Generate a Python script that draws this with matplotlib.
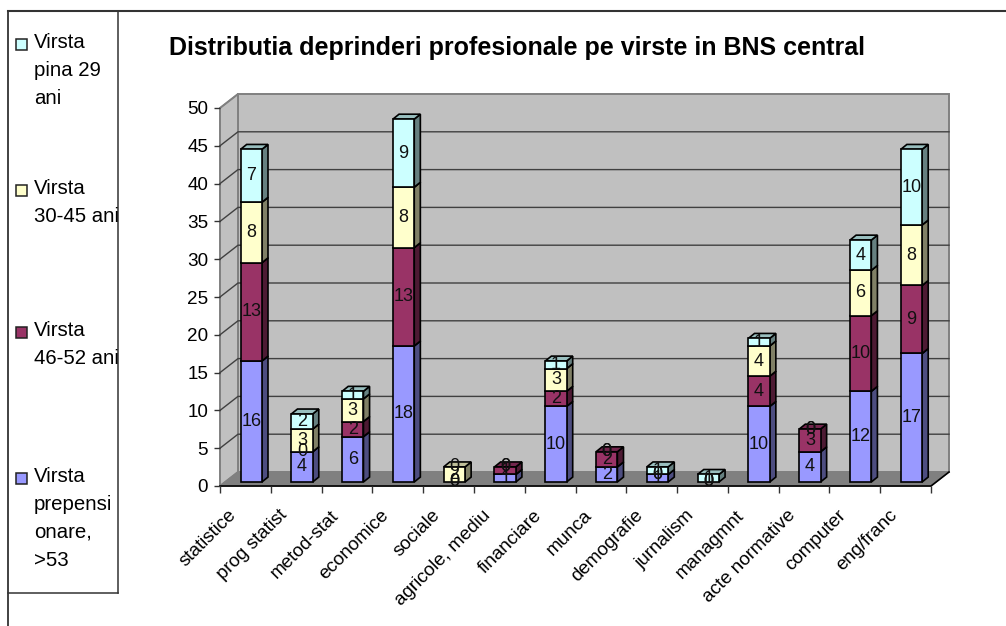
import matplotlib.pyplot as plt
from matplotlib.lines import Line2D
from matplotlib.patches import Polygon, Rectangle

categories = [
    "statistice", "prog statist", "metod-stat", "economice", "sociale",
    "agricole, mediu", "financiare", "munca", "demografie", "jurnalism",
    "managmnt", "acte normative", "computer", "eng/franc",
]
virsta_53 = [16, 4, 6, 18, 0, 1, 10, 2, 1, 0, 10, 4, 12, 17]
virsta_46 = [13, 0, 2, 13, 0, 1, 2, 2, 0, 0, 4, 3, 10, 9]
virsta_30 = [8, 3, 3, 8, 2, 0, 3, 0, 0, 0, 4, 0, 6, 8]
virsta_29 = [7, 2, 1, 9, 0, 0, 1, 0, 1, 1, 1, 0, 4, 10]
yticks = list(range(0, 55, 5))

series = [virsta_53, virsta_46, virsta_30, virsta_29]
front_colors = ["#9999FF", "#993366", "#FFFFCC", "#CCFFFF"]
side_colors = ["#4D4D80", "#4D1A33", "#808066", "#668080"]
top_colors = ["#7373BF", "#73264D", "#BFBF99", "#99BFBF"]

legend_items = [
    ("Virsta\npina 29\nani", 44, "#CCFFFF"),
    ("Virsta\n30-45 ani", 190, "#FFFFCC"),
    ("Virsta\n46-52 ani", 332, "#993366"),
    ("Virsta\nprepensi\nonare,\n>53", 478, "#9999FF"),
]

W, H = 1006, 626
X0, X1 = 220, 931
Y0, Y50 = 486, 108

# pseudo 3D offsets, in data units
WALL_DX = 18 / ((X1 - X0) / 14)
WALL_DY = 14 / ((Y0 - Y50) / 50)
BAR_DX = 0.12
BAR_DY = 0.65
BAR_W = 0.42
BAR_SHIFT = 0.115
BAR_LIFT = 0.53
LABEL_SHIFT = 0.16


def fig_line(fig, xs, ys, color="#333333", lw=1.3):
    fig.add_artist(Line2D([x / W for x in xs], [1 - y / H for y in ys], color=color, lw=lw))


def draw_walls(ax):
    n = len(categories)
    top = yticks[-1]
    ax.add_patch(Polygon([(WALL_DX, WALL_DY), (n + WALL_DX, WALL_DY), (n + WALL_DX, top + WALL_DY),
                          (WALL_DX, top + WALL_DY)], fc="#C0C0C0", ec="#808080", lw=1.4, clip_on=False))
    ax.add_patch(Polygon([(0, 0), (WALL_DX, WALL_DY), (WALL_DX, top + WALL_DY), (0, top)],
                         fc="#C0C0C0", ec="#808080", lw=1.4, clip_on=False))
    ax.add_patch(Polygon([(0, 0), (n, 0), (n + WALL_DX, WALL_DY), (WALL_DX, WALL_DY)],
                         fc="#808080", ec="#808080", lw=1, clip_on=False))
    for v in yticks[1:-1]:
        ax.plot([0, WALL_DX, n + WALL_DX], [v, v + WALL_DY, v + WALL_DY], color="#404040", lw=1,
                clip_on=False, zorder=1.5)
    ax.plot([0, WALL_DX], [yticks[-1], yticks[-1] + WALL_DY], color="#808080", lw=1, clip_on=False, zorder=1.5)
    ax.plot([0, n, n + WALL_DX], [0, 0, WALL_DY], color="black", lw=1.2, clip_on=False, zorder=1.5)


def draw_bars(ax):
    bottoms = [0] * len(categories)
    for k, values in enumerate(series):
        for i, v in enumerate(values):
            if v == 0:
                continue
            x = i + 0.5 + BAR_SHIFT - BAR_W / 2
            y = bottoms[i] + BAR_LIFT
            ax.add_patch(Rectangle((x, y), BAR_W, v, fc=front_colors[k], ec="black", lw=1.2, zorder=3))
            ax.add_patch(Polygon([(x + BAR_W, y), (x + BAR_W + BAR_DX, y + BAR_DY),
                                  (x + BAR_W + BAR_DX, y + v + BAR_DY), (x + BAR_W, y + v)],
                                 fc=side_colors[k], ec="black", lw=1.2, zorder=2.9))
            ax.add_patch(Polygon([(x, y + v), (x + BAR_W, y + v), (x + BAR_W + BAR_DX, y + v + BAR_DY),
                                  (x + BAR_DX, y + v + BAR_DY)],
                                 fc=top_colors[k], ec="black", lw=1.2, zorder=2.9))
        bottoms = [b + v for b, v in zip(bottoms, values)]

    # labels go over all the bars, zeros included
    bottoms = [0] * len(categories)
    for values in series:
        for i, v in enumerate(values):
            ax.text(i + 0.5 + BAR_SHIFT, bottoms[i] + BAR_LIFT + v / 2, str(v), ha="center", va="center",
                    fontsize=13, color="#111111", zorder=5)
        bottoms = [b + v for b, v in zip(bottoms, values)]


def draw_legend(fig):
    fig_line(fig, [8, 1006], [11, 11], lw=1.5)
    fig_line(fig, [8, 8], [11, 626])
    fig_line(fig, [118, 118], [11, 593], lw=1.1)
    fig_line(fig, [8, 118], [593, 593], lw=1.1)
    for label, y, color in legend_items:
        fig.add_artist(Rectangle((16 / W, 1 - (y + 5.5) / H), 11 / W, 11 / H, fc=color, ec="#222222", lw=1.1))
        fig.text(34 / W, 1 - (y - 11) / H, label, fontsize=14.7, va="top", ha="left", linespacing=1.6)


def main():
    plt.rcParams["font.family"] = ["Liberation Sans", "DejaVu Sans"]
    fig = plt.figure(figsize=(W / 100, H / 100), dpi=100)
    ax = fig.add_axes([X0 / W, 1 - Y0 / H, (X1 - X0) / W, (Y0 - Y50) / H])
    ax.set_xlim(0, len(categories))
    ax.set_ylim(yticks[0], yticks[-1])
    for spine in ax.spines.values():
        spine.set_visible(False)

    draw_walls(ax)
    draw_bars(ax)

    ax.set_yticks(yticks)
    ax.tick_params(axis="y", labelsize=13.6, length=4.5, width=1, pad=4, color="#333333")
    ax.set_xticks(range(len(categories) + 1))
    ax.tick_params(axis="x", which="major", length=5, width=1, labelbottom=False, color="#333333")
    ax.set_xticks([i + LABEL_SHIFT for i in range(len(categories))], minor=True)
    ax.set_xticklabels(categories, minor=True, rotation=45, ha="right", rotation_mode="anchor", fontsize=13.6)
    ax.tick_params(axis="x", which="minor", length=0, pad=15)

    fig.text(169 / W, 1 - 48 / H, "Distributia deprinderi profesionale pe virste in BNS central",
             fontsize=18, fontweight="bold", va="center", ha="left")
    draw_legend(fig)
    fig.savefig("out.png", dpi=100)


if __name__ == "__main__":
    main()
